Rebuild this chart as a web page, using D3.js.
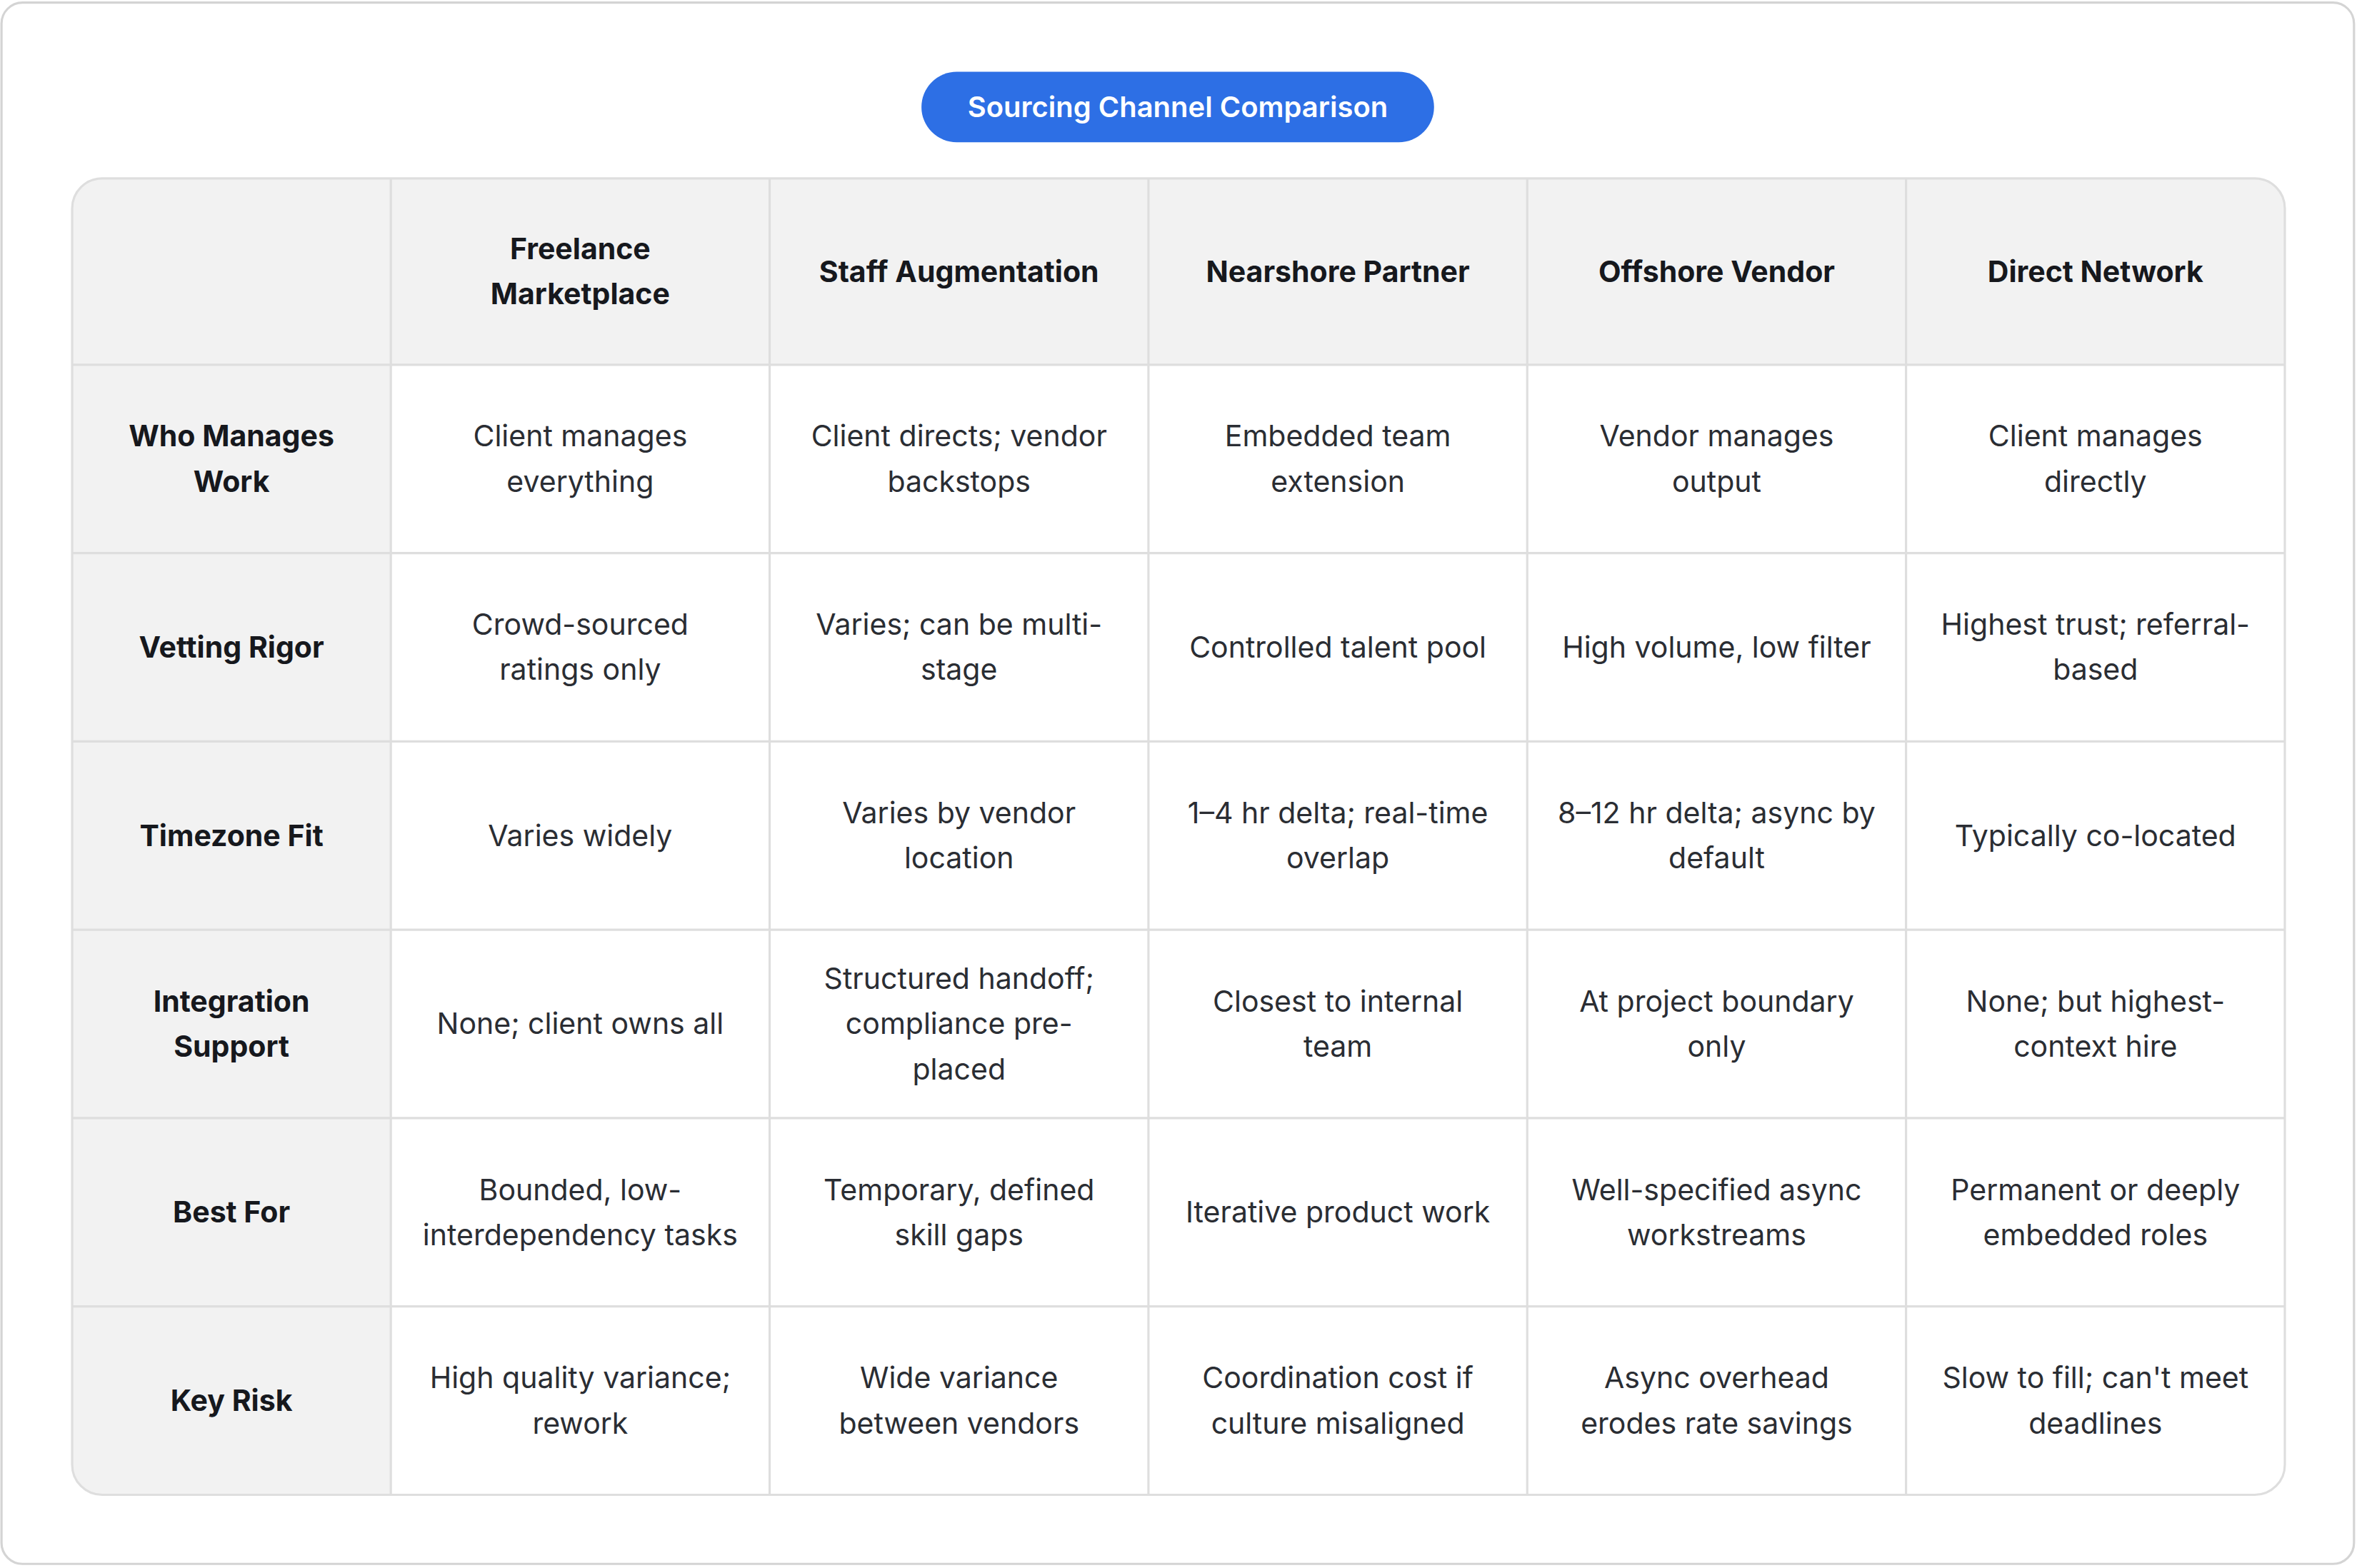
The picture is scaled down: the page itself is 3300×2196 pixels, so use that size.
<!DOCTYPE html>
<html>
<head>
<meta charset="utf-8">
<script src="https://cdn.jsdelivr.net/npm/d3@7"></script>
<style>
  html, body { margin: 0; padding: 0; background: #fff; }
  svg { display: block; font-family: Inter, "Noto Sans", sans-serif; }
</style>
</head>
<body>
<svg id="chart"></svg>
<script>
var title = "Sourcing Channel Comparison";
var channels = ["Freelance\nMarketplace", "Staff Augmentation", "Nearshore Partner", "Offshore Vendor", "Direct Network"];
var criteria = ["Who Manages\nWork", "Vetting Rigor", "Timezone Fit", "Integration\nSupport", "Best For", "Key Risk"];
var cells = [
  ["Client manages\neverything", "Client directs; vendor\nbackstops", "Embedded team\nextension", "Vendor manages\noutput", "Client manages\ndirectly"],
  ["Crowd-sourced\nratings only", "Varies; can be multi-\nstage", "Controlled talent pool", "High volume, low filter", "Highest trust; referral-\nbased"],
  ["Varies widely", "Varies by vendor\nlocation", "1–4 hr delta; real-time\noverlap", "8–12 hr delta; async by\ndefault", "Typically co-located"],
  ["None; client owns all", "Structured handoff;\ncompliance pre-\nplaced", "Closest to internal\nteam", "At project boundary\nonly", "None; but highest-\ncontext hire"],
  ["Bounded, low-\ninterdependency tasks", "Temporary, defined\nskill gaps", "Iterative product work", "Well-specified async\nworkstreams", "Permanent or deeply\nembedded roles"],
  ["High quality variance;\nrework", "Wide variance\nbetween vendors", "Coordination cost if\nculture misaligned", "Async overhead\nerodes rate savings", "Slow to fill; can't meet\ndeadlines"]
];

// drawn in a 1568-wide design space, scaled up to the window
var W = 1568, H = 1042;
var svg = d3.select("#chart").attr("width", 3300).attr("height", 2196)
  .attr("viewBox", "0 0 " + W + " " + H);

svg.append("rect").attr("x", 1).attr("y", 1).attr("width", W - 3).attr("height", H - 3)
  .attr("rx", 14).attr("fill", "#fff").attr("stroke", "#d4d4d4").attr("stroke-width", 1.5);

// title pill
var pill = svg.append("g");
pill.append("rect").attr("x", 613).attr("y", 47).attr("width", 341).attr("height", 47)
  .attr("rx", 23.5).attr("fill", "#2d6fe5");
pill.append("text").attr("x", 783.5).attr("y", 70.5).attr("dy", "0.35em")
  .attr("text-anchor", "middle").attr("fill", "#fff").attr("font-size", 19).attr("font-weight", 600)
  .text(title);

var tLeft = 48, tRight = 1520, tTop = 118, tBottom = 994;
var firstW = 212, headH = 124;

var x = d3.scaleBand().domain(d3.range(channels.length)).range([tLeft + firstW, tRight]);
var y = d3.scaleBand().domain(d3.range(criteria.length)).range([tTop + headH, tBottom]);

svg.append("defs").append("clipPath").attr("id", "tbl")
  .append("rect").attr("x", tLeft).attr("y", tTop).attr("width", tRight - tLeft).attr("height", tBottom - tTop).attr("rx", 20);

var t = svg.append("g").attr("clip-path", "url(#tbl)");
t.append("rect").attr("x", tLeft).attr("y", tTop).attr("width", tRight - tLeft).attr("height", tBottom - tTop).attr("fill", "#fff");
t.append("rect").attr("x", tLeft).attr("y", tTop).attr("width", tRight - tLeft).attr("height", headH).attr("fill", "#f2f2f2");
t.append("rect").attr("x", tLeft).attr("y", tTop).attr("width", firstW).attr("height", tBottom - tTop).attr("fill", "#f2f2f2");

var lineCol = "#dedede";
t.selectAll("line.v").data(d3.range(channels.length)).join("line")
  .attr("x1", function(d) { return x(d); }).attr("x2", function(d) { return x(d); })
  .attr("y1", tTop).attr("y2", tBottom).attr("stroke", lineCol).attr("stroke-width", 1.5);
t.selectAll("line.h").data(d3.range(criteria.length)).join("line")
  .attr("y1", function(d) { return y(d); }).attr("y2", function(d) { return y(d); })
  .attr("x1", tLeft).attr("x2", tRight).attr("stroke", lineCol).attr("stroke-width", 1.5);

svg.append("rect").attr("x", tLeft).attr("y", tTop).attr("width", tRight - tLeft).attr("height", tBottom - tTop)
  .attr("rx", 20).attr("fill", "none").attr("stroke", lineCol).attr("stroke-width", 1.5);

function multiline(g, str, cx, cy, bold) {
  var lines = str.split("\n");
  var lh = 30;
  var txt = g.append("text").attr("text-anchor", "middle").attr("font-size", 19.5)
    .attr("font-weight", bold ? 700 : 400).attr("fill", bold ? "#16181d" : "#2a2d33");
  lines.forEach(function(l, i) {
    txt.append("tspan").attr("x", cx).attr("y", cy + (i - (lines.length - 1) / 2) * lh)
      .attr("dy", "0.35em").text(l);
  });
}

channels.forEach(function(c, i) {
  multiline(svg, c, x(i) + x.bandwidth() / 2, tTop + headH / 2, true);
});
criteria.forEach(function(c, j) {
  multiline(svg, c, tLeft + firstW / 2, y(j) + y.bandwidth() / 2, true);
  cells[j].forEach(function(v, i) {
    multiline(svg, v, x(i) + x.bandwidth() / 2, y(j) + y.bandwidth() / 2, false);
  });
});
</script>
</body>
</html>
